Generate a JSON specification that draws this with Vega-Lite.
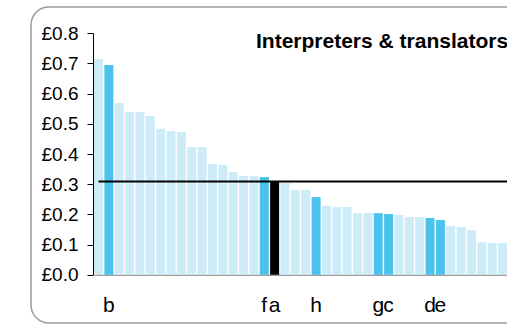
{
  "$schema": "https://vega.github.io/schema/vega-lite/v6.json",
  "width": 520,
  "height": 316,
  "autosize": {"type": "none"},
  "padding": {"left": 31, "top": 7, "right": -21, "bottom": 1},
  "background": "white",
  "config": {
    "view": {"stroke": "#9a9a9a", "strokeWidth": 1.5, "cornerRadius": 18},
    "font": "Liberation Sans",
    "axis": {"labelOverlap": false},
    "axisY": {"labelOverlap": false, "labelFontSize": 19, "labelFont": "Liberation Sans", "labelColor": "#000000"}
  },
  "title": {
    "text": "Interpreters & translators",
    "anchor": "start",
    "frame": "group",
    "orient": "top",
    "offset": 0,
    "dx": 225,
    "dy": 62,
    "baseline": "alphabetic",
    "font": "Liberation Sans",
    "fontSize": 21,
    "fontWeight": "bold",
    "color": "#000000"
  },
  "data": {
    "values": [
      {"rank": 1, "value": 0.715, "group": "Other", "label": ""},
      {"rank": 2, "value": 0.695, "group": "Highlighted", "label": "b"},
      {"rank": 3, "value": 0.569, "group": "Other", "label": ""},
      {"rank": 4, "value": 0.539, "group": "Other", "label": ""},
      {"rank": 5, "value": 0.539, "group": "Other", "label": ""},
      {"rank": 6, "value": 0.526, "group": "Other", "label": ""},
      {"rank": 7, "value": 0.484, "group": "Other", "label": ""},
      {"rank": 8, "value": 0.476, "group": "Other", "label": ""},
      {"rank": 9, "value": 0.473, "group": "Other", "label": ""},
      {"rank": 10, "value": 0.423, "group": "Other", "label": ""},
      {"rank": 11, "value": 0.423, "group": "Other", "label": ""},
      {"rank": 12, "value": 0.367, "group": "Other", "label": ""},
      {"rank": 13, "value": 0.364, "group": "Other", "label": ""},
      {"rank": 14, "value": 0.340, "group": "Other", "label": ""},
      {"rank": 15, "value": 0.327, "group": "Other", "label": ""},
      {"rank": 16, "value": 0.327, "group": "Other", "label": ""},
      {"rank": 17, "value": 0.324, "group": "Highlighted", "label": "f"},
      {"rank": 18, "value": 0.310, "group": "Selected", "label": "a"},
      {"rank": 19, "value": 0.305, "group": "Other", "label": ""},
      {"rank": 20, "value": 0.281, "group": "Other", "label": ""},
      {"rank": 21, "value": 0.281, "group": "Other", "label": ""},
      {"rank": 22, "value": 0.257, "group": "Highlighted", "label": "h"},
      {"rank": 23, "value": 0.228, "group": "Other", "label": ""},
      {"rank": 24, "value": 0.224, "group": "Other", "label": ""},
      {"rank": 25, "value": 0.224, "group": "Other", "label": ""},
      {"rank": 26, "value": 0.204, "group": "Other", "label": ""},
      {"rank": 27, "value": 0.204, "group": "Other", "label": ""},
      {"rank": 28, "value": 0.204, "group": "Highlighted", "label": "g"},
      {"rank": 29, "value": 0.201, "group": "Highlighted", "label": "c"},
      {"rank": 30, "value": 0.198, "group": "Other", "label": ""},
      {"rank": 31, "value": 0.191, "group": "Other", "label": ""},
      {"rank": 32, "value": 0.191, "group": "Other", "label": ""},
      {"rank": 33, "value": 0.188, "group": "Highlighted", "label": "d"},
      {"rank": 34, "value": 0.181, "group": "Highlighted", "label": "e"},
      {"rank": 35, "value": 0.161, "group": "Other", "label": ""},
      {"rank": 36, "value": 0.158, "group": "Other", "label": ""},
      {"rank": 37, "value": 0.148, "group": "Other", "label": ""},
      {"rank": 38, "value": 0.108, "group": "Other", "label": ""},
      {"rank": 39, "value": 0.105, "group": "Other", "label": ""},
      {"rank": 40, "value": 0.105, "group": "Other", "label": ""}
    ]
  },
  "layer": [
    {
      "mark": {"type": "bar"},
      "encoding": {
        "x": {
          "field": "rank",
          "type": "ordinal",
          "scale": {"range": [63, 496.8], "paddingInner": 0.13, "paddingOuter": 1, "align": 0},
          "axis": {
            "orient": "bottom",
            "offset": -48.3,
            "labels": false,
            "ticks": false,
            "title": null,
            "domainColor": "#6e6e6e",
            "domainWidth": 1
          }
        },
        "y": {
          "field": "value",
          "type": "quantitative",
          "scale": {"domain": [0, 0.8], "range": [267.7, 26.3], "nice": false},
          "axis": {
            "offset": -62,
            "tickCount": 8,
            "labelExpr": "'£' + format(datum.value, '.1f')",
            "labelOverlap": false,
            "grid": false,
            "title": null,
            "tickSize": 6,
            "tickColor": "#000000",
            "domainColor": "#000000",
            "labelPadding": 9
          }
        },
        "color": {
          "field": "group",
          "type": "nominal",
          "scale": {"domain": ["Other", "Highlighted", "Selected"], "range": ["#cdecf8", "#4ac2eb", "#000000"]},
          "legend": null
        }
      }
    },
    {
      "data": {"values": [{"start": 1, "end": 40, "mean": 0.309}]},
      "mark": {"type": "rule", "strokeWidth": 2, "color": "#000000", "x2Offset": 12},
      "encoding": {
        "x": {"field": "start", "type": "ordinal"},
        "x2": {"field": "end"},
        "y": {"field": "mean", "type": "quantitative"}
      }
    },
    {
      "mark": {"type": "text", "baseline": "alphabetic", "dy": 37, "fontSize": 21, "font": "Liberation Sans", "color": "#000000"},
      "encoding": {
        "x": {"field": "rank", "type": "ordinal"},
        "y": {"datum": 0},
        "text": {"field": "label"}
      }
    }
  ]
}
